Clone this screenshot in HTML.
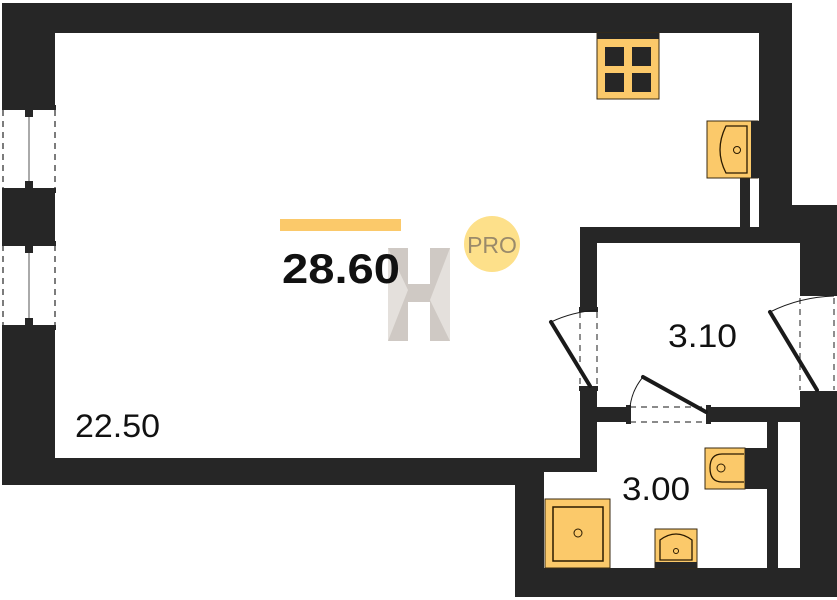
<!DOCTYPE html>
<html><head><style>
html,body{margin:0;padding:0;background:#fff;width:837px;height:600px;overflow:hidden}
text{font-family:"Liberation Sans",sans-serif}
</style></head><body>
<svg width="837" height="600" viewBox="0 0 837 600" xmlns="http://www.w3.org/2000/svg">
<g fill="#262626">
<rect x="2" y="3" width="790" height="30"/>
<rect x="2" y="3" width="53" height="482"/>
<rect x="759" y="3" width="33" height="224"/>
<rect x="2" y="458" width="542" height="27"/>
<rect x="515" y="458" width="29" height="139"/>
<rect x="515" y="568" width="322" height="29"/>
<rect x="792" y="205" width="45" height="38"/>
<rect x="800" y="205" width="37" height="392"/>
<rect x="580" y="227" width="220" height="16"/>
<rect x="580" y="227" width="17" height="245"/>
<rect x="544" y="458" width="53" height="14"/>
<rect x="580" y="407" width="254" height="15"/>
<rect x="767" y="407" width="11" height="161"/>
<rect x="740" y="178" width="10" height="49"/>
</g>
<g>
<rect x="2" y="107" width="53" height="83" fill="#fff"/>
<rect x="2" y="242" width="53" height="86" fill="#fff"/>
<g stroke="#262626" stroke-width="1.2" stroke-dasharray="6,5" fill="none">
<line x1="3" y1="110" x2="3" y2="188"/><line x1="55" y1="110" x2="55" y2="188"/>
<line x1="3" y1="245" x2="3" y2="326"/><line x1="55" y1="245" x2="55" y2="326"/>
</g>
<g fill="#262626">
<rect x="2" y="105" width="54" height="5"/><rect x="2" y="188" width="54" height="5"/>
<rect x="2" y="241" width="54" height="5"/><rect x="2" y="325" width="54" height="5"/>
<rect x="25" y="110" width="8" height="7"/><rect x="25" y="181" width="8" height="7"/>
<rect x="25" y="246" width="8" height="7"/><rect x="25" y="318" width="8" height="7"/>
</g>
<line x1="29" y1="117" x2="29" y2="181" stroke="#555" stroke-width="1"/>
<line x1="29" y1="253" x2="29" y2="318" stroke="#555" stroke-width="1"/>
</g>
<rect x="580" y="309" width="17" height="79" fill="#fff"/>
<rect x="627" y="407" width="83" height="15" fill="#fff"/>
<rect x="800" y="293" width="37" height="100" fill="#fff"/>
<g stroke="#444" stroke-width="1.2" stroke-dasharray="6,5" fill="none">
<line x1="580" y1="312" x2="580" y2="386"/><line x1="597" y1="312" x2="597" y2="386"/>
<line x1="630" y1="407" x2="707" y2="407"/><line x1="630" y1="422" x2="707" y2="422"/>
<line x1="800" y1="298" x2="800" y2="390"/><line x1="834" y1="298" x2="834" y2="390"/>
</g>
<g fill="#262626">
<rect x="579" y="307" width="19" height="5"/><rect x="579" y="386" width="19" height="5"/>
<rect x="626" y="405" width="5" height="19"/><rect x="706" y="405" width="5" height="19"/>
<rect x="800" y="291" width="37" height="5"/><rect x="800" y="391" width="37" height="5"/>
</g>
<g stroke="#1a1a1a" stroke-width="4" stroke-linecap="round">
<line x1="590" y1="386" x2="551" y2="322"/>
<line x1="706" y1="412" x2="643" y2="377"/>
<line x1="817" y1="390" x2="770" y2="312"/>
</g>
<g stroke="#1a1a1a" stroke-width="1" fill="none">
<path d="M551 322 Q572 312 597 310"/>
<path d="M643 377 Q632 390 630 407"/>
<path d="M770 312 Q800 297 834 296"/>
</g>
<rect x="597" y="33" width="62" height="66" fill="#fbc96a" stroke="#3a2a10" stroke-width="1"/>
<rect x="597" y="33" width="62" height="6" fill="#262626"/>
<g fill="#262626"><rect x="605" y="47" width="19" height="19"/><rect x="632" y="47" width="19" height="19"/><rect x="605" y="73" width="19" height="19"/><rect x="632" y="73" width="19" height="19"/></g>
<rect x="707" y="121" width="51" height="57" fill="#fbc96a" stroke="#3a2a10" stroke-width="1"/>
<rect x="751" y="121" width="8" height="57" fill="#262626"/>
<path d="M726 126 L747 126 L747 173 L726 173 Q714 150 726 126 Z" fill="none" stroke="#2a1a00" stroke-width="1.3"/>
<circle cx="737" cy="150" r="3.5" fill="none" stroke="#2a1a00" stroke-width="1"/>
<rect x="545" y="499" width="65" height="69" fill="#fbc96a" stroke="#3a2a10" stroke-width="1"/>
<rect x="553" y="507" width="50" height="54" fill="none" stroke="#2a1a00" stroke-width="1.5"/>
<circle cx="578" cy="533" r="4" fill="none" stroke="#2a1a00" stroke-width="1"/>
<rect x="655" y="529" width="42" height="39" fill="#fbc96a" stroke="#3a2a10" stroke-width="1"/>
<rect x="655" y="562" width="42" height="6" fill="#262626"/>
<path d="M660 560 L660 540 Q676 528 692 540 L692 560 Z" fill="none" stroke="#2a1a00" stroke-width="1.3"/>
<circle cx="676" cy="551" r="2.5" fill="none" stroke="#2a1a00" stroke-width="1"/>
<rect x="705" y="448" width="40" height="41" fill="#fbc96a" stroke="#3a2a10" stroke-width="1"/>
<rect x="745" y="448" width="22" height="41" fill="#262626"/>
<path d="M744 454 L722 454 Q710 454 710 468 Q710 482 722 482 L744 482" fill="none" stroke="#2a1a00" stroke-width="1.3"/>
<circle cx="721" cy="468" r="4" fill="none" stroke="#2a1a00" stroke-width="1"/>
<g opacity="0.55">
<rect x="388" y="248" width="20" height="93" fill="#a89e94"/>
<rect x="430" y="248" width="20" height="93" fill="#a89e94"/>
<rect x="408" y="284" width="22" height="18" fill="#a89e94"/>
<polygon points="388,248 408,290 388,341" fill="#cfc8c0"/>
<polygon points="450,248 430,300 450,341" fill="#cfc8c0"/>
</g>
<rect x="280" y="219" width="121" height="12" fill="#fbc96a"/>
<text x="282" y="283" font-size="42" font-weight="bold" fill="#111" textLength="118" lengthAdjust="spacingAndGlyphs">28.60</text>
<circle cx="492" cy="244" r="28" fill="#fde08a"/>
<text x="492" y="253" font-size="23" fill="#9a8a6a" text-anchor="middle">PRO</text>
<text x="75" y="437" font-size="32" fill="#111" textLength="85" lengthAdjust="spacingAndGlyphs">22.50</text>
<text x="668" y="347" font-size="32" fill="#111" textLength="69" lengthAdjust="spacingAndGlyphs">3.10</text>
<text x="622" y="500" font-size="32" fill="#111" textLength="68" lengthAdjust="spacingAndGlyphs">3.00</text>
</svg>
</body></html>
